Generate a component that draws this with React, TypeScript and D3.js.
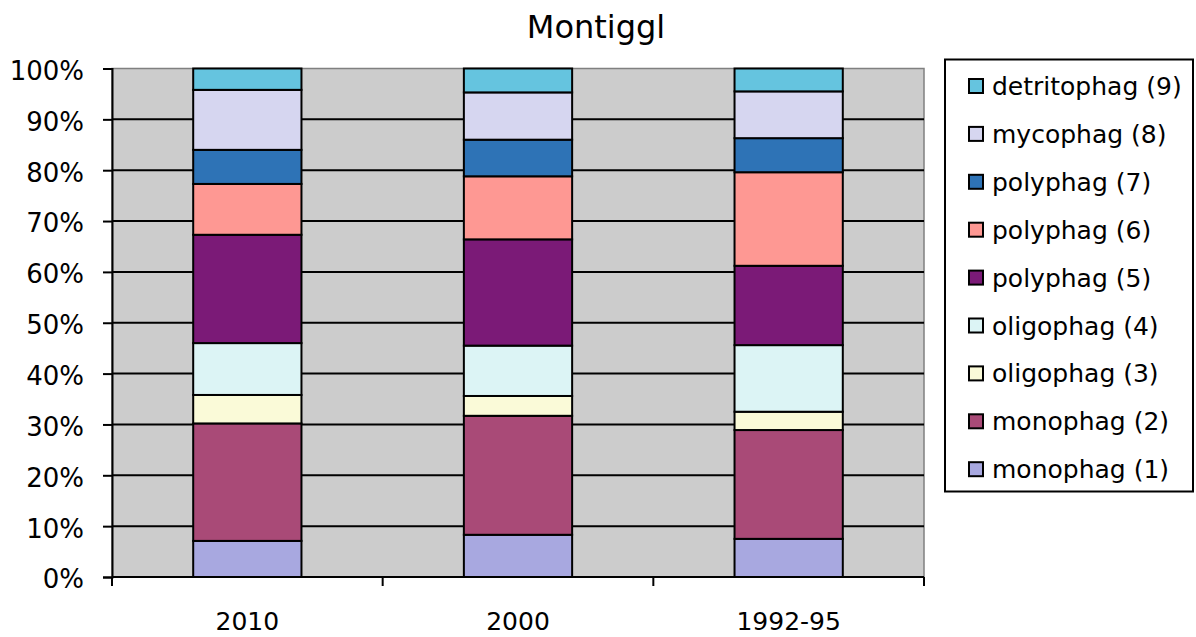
import React, { useEffect, useRef } from 'react';
import * as d3 from 'd3';

const categories = ['2010', '2000', '1992-95'];

const seriesNames = [
  'monophag (1)',
  'monophag (2)',
  'oligophag (3)',
  'oligophag (4)',
  'polyphag (5)',
  'polyphag (6)',
  'polyphag (7)',
  'mycophag (8)',
  'detritophag (9)',
];

// percentages per series, in category order
const monophag1 = [7.1, 8.3, 7.5];
const monophag2 = [23.1, 23.4, 21.4];
const oligophag3 = [5.6, 3.9, 3.6];
const oligophag4 = [10.2, 9.9, 13.1];
const polyphag5 = [21.3, 20.9, 15.6];
const polyphag6 = [10.0, 12.4, 18.4];
const polyphag7 = [6.7, 7.2, 6.7];
const mycophag8 = [11.8, 9.3, 9.2];
const detritophag9 = [4.2, 4.7, 4.5];

const seriesValues = [
  monophag1,
  monophag2,
  oligophag3,
  oligophag4,
  polyphag5,
  polyphag6,
  polyphag7,
  mycophag8,
  detritophag9,
];

const colors = [
  '#a8a8e0',
  '#a94a77',
  '#fafad8',
  '#dcf4f5',
  '#7b1a77',
  '#fe9893',
  '#2e73b6',
  '#d6d6f0',
  '#65c4df',
];

const yTicks = [0, 0.1, 0.2, 0.3, 0.4, 0.5, 0.6, 0.7, 0.8, 0.9, 1];

const FONT = '"DejaVu Sans", sans-serif';

const Chart = () => {
  const ref = useRef<SVGSVGElement>(null);

  useEffect(() => {
    document.body.style.margin = '0';
    const svg = d3.select(ref.current);
    svg.selectAll('*').remove();

    const left = 112;
    const right = 924;
    const top = 68.5;
    const bottom = 577;

    const x = d3
      .scaleBand()
      .domain(categories)
      .range([left, right])
      .paddingInner(0.6)
      .paddingOuter(0.3);

    const y = d3.scaleLinear().domain([0, 1]).range([bottom, top]);

    const rows = categories.map((c, i) => {
      const row: any = { category: c };
      seriesNames.forEach((s, j) => (row[s] = seriesValues[j][i]));
      return row;
    });

    const stacked = d3
      .stack()
      .keys(seriesNames)
      .offset(d3.stackOffsetExpand)(rows);

    // title
    svg
      .append('text')
      .attr('x', 596)
      .attr('y', 38)
      .attr('text-anchor', 'middle')
      .style('font-family', FONT)
      .style('font-size', '32px')
      .text('Montiggl');

    // plot area
    svg
      .append('rect')
      .attr('x', left)
      .attr('y', top)
      .attr('width', right - left)
      .attr('height', bottom - top)
      .attr('fill', '#cccccc')
      .attr('stroke', '#808080')
      .attr('stroke-width', 1.5);

    // gridlines
    svg
      .append('g')
      .selectAll('line')
      .data(yTicks.filter((t) => t > 0 && t < 1))
      .join('line')
      .attr('x1', left)
      .attr('x2', right)
      .attr('y1', (d) => y(d))
      .attr('y2', (d) => y(d))
      .attr('stroke', '#000')
      .attr('stroke-width', 2);

    // bars
    svg
      .append('g')
      .selectAll('g')
      .data(stacked)
      .join('g')
      .attr('fill', (d, i) => colors[i])
      .selectAll('rect')
      .data((d) => d)
      .join('rect')
      .attr('x', (d: any) => x(d.data.category)!)
      .attr('width', x.bandwidth())
      .attr('y', (d) => y(d[1]))
      .attr('height', (d) => y(d[0]) - y(d[1]))
      .attr('stroke', '#000')
      .attr('stroke-width', 2);

    // y axis
    const yAxis = d3
      .axisLeft(y)
      .tickValues(yTicks)
      .tickFormat(d3.format('.0%'))
      .tickSize(9)
      .tickPadding(20);

    const gy = svg
      .append('g')
      .attr('transform', `translate(${left},0)`)
      .call(yAxis);
    gy.select('.domain').attr('stroke', '#000').attr('stroke-width', 2);
    gy.selectAll('.tick line').attr('stroke', '#000').attr('stroke-width', 2);
    gy.selectAll('.tick text')
      .attr('fill', '#000')
      .style('font-family', FONT)
      .style('font-size', '26px')
      .attr('dy', '0.42em')
      .attr('x', -28);

    // x axis: ticks at category boundaries, labels at centres
    const step = x.step();
    const boundaries = [0, 1, 2, 3].map(
      (i) => left + step * x.paddingOuter() - (step * x.paddingInner()) / 2 + i * step
    );

    svg
      .append('line')
      .attr('x1', left)
      .attr('x2', right)
      .attr('y1', bottom)
      .attr('y2', bottom)
      .attr('stroke', '#000')
      .attr('stroke-width', 2);

    svg
      .append('g')
      .selectAll('line')
      .data(boundaries)
      .join('line')
      .attr('x1', (d) => d)
      .attr('x2', (d) => d)
      .attr('y1', bottom)
      .attr('y2', bottom + 9)
      .attr('stroke', '#000')
      .attr('stroke-width', 2);

    svg
      .append('g')
      .selectAll('text')
      .data(categories)
      .join('text')
      .attr('x', (d) => x(d)! + x.bandwidth() / 2)
      .attr('y', 630)
      .attr('text-anchor', 'middle')
      .style('font-family', FONT)
      .style('font-size', '25px')
      .text((d) => d);

    // legend
    const legend = svg.append('g');
    legend
      .append('rect')
      .attr('x', 945)
      .attr('y', 59.5)
      .attr('width', 248)
      .attr('height', 432)
      .attr('fill', '#fff')
      .attr('stroke', '#000')
      .attr('stroke-width', 2);

    const legendItems = seriesNames
      .map((name, i) => ({ name, color: colors[i] }))
      .reverse();

    const item = legend
      .selectAll('g.item')
      .data(legendItems)
      .join('g')
      .attr('class', 'item')
      .attr('transform', (d, i) => `translate(0,${86 + i * 47.9})`);

    item
      .append('rect')
      .attr('x', 969)
      .attr('y', -7)
      .attr('width', 14)
      .attr('height', 14)
      .attr('fill', (d) => d.color)
      .attr('stroke', '#000')
      .attr('stroke-width', 2);

    item
      .append('text')
      .attr('x', 992)
      .attr('y', 9)
      .style('font-family', FONT)
      .style('font-size', '25px')
      .text((d) => d.name);
  }, []);

  return (
    <svg
      ref={ref}
      width={1196}
      height={637}
      style={{ display: 'block', background: '#fff' }}
    />
  );
};

export default function App() {
  return <Chart />;
}
